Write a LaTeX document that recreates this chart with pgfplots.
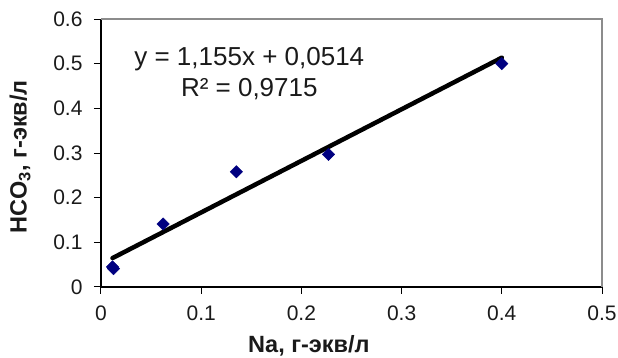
\documentclass[border=0pt]{standalone}
\usepackage{pgfplots}
\pgfplotsset{compat=1.18}
\usepackage{fontspec}
\setmainfont{Liberation Sans}
\usetikzlibrary{calc}
\definecolor{navymark}{HTML}{000080}
\definecolor{txt}{HTML}{1A1A1A}
\begin{document}
\begin{tikzpicture}
\begin{axis}[
  name=ax,
  scale only axis,
  width=501pt, height=268pt,
  xmin=0, xmax=0.5, ymin=0, ymax=0.6,
  axis x line=bottom, axis y line=left,
  axis line style={-, black, line width=1.2pt},
  xtick={0,0.1,0.2,0.3,0.4,0.5},
  xticklabels={0,0.1,0.2,0.3,0.4,0.5},
  ytick={0,0.1,0.2,0.3,0.4,0.5,0.6},
  yticklabels={0,0.1,0.2,0.3,0.4,0.5,0.6},
  tick align=outside,
  major tick length=7pt,
  tick style={black, line width=1pt},
  ticklabel style={font=\fontsize{21}{24}\selectfont, text=txt},
  xticklabel style={yshift=-8pt},
  yticklabel style={xshift=-8pt},
  xlabel={\bfseries Na, г-экв/л},
  ylabel={\bfseries HCO\textsubscript{3}, г-экв/л},
  label style={font=\fontsize{23.5}{26}\selectfont, text=txt},
  xlabel style={at={(axis description cs:0.415,-0.246)}, anchor=base},
  ylabel style={at={(axis description cs:-0.1617,0.486)}, anchor=center},
  clip=false,
]
\draw[gray!90, line width=1.3pt] (rel axis cs:0,1) -- (rel axis cs:1,1) -- (rel axis cs:1,0);
\addplot[only marks, mark=square*, mark size=4.4pt, mark options={rotate=45, fill=navymark, draw=navymark}]
  coordinates {(0.0115,0.045) (0.0125,0.041) (0.062,0.141) (0.135,0.258) (0.227,0.297) (0.400,0.500)};
\addplot[black, line width=4.5pt, line cap=round] coordinates {(0.0115,0.0647) (0.400,0.5134)};
\node[align=center, font=\fontsize{26}{31}\selectfont, text=txt] at (axis cs:0.148,0.478)
  {y = 1,155x + 0,0514\\R² = 0,9715};
\end{axis}
\pgfresetboundingbox
\useasboundingbox ($(ax.south west)+(-101pt,-71pt)$) rectangle ($(ax.north east)+(16pt,19pt)$);
\end{tikzpicture}
\end{document}
